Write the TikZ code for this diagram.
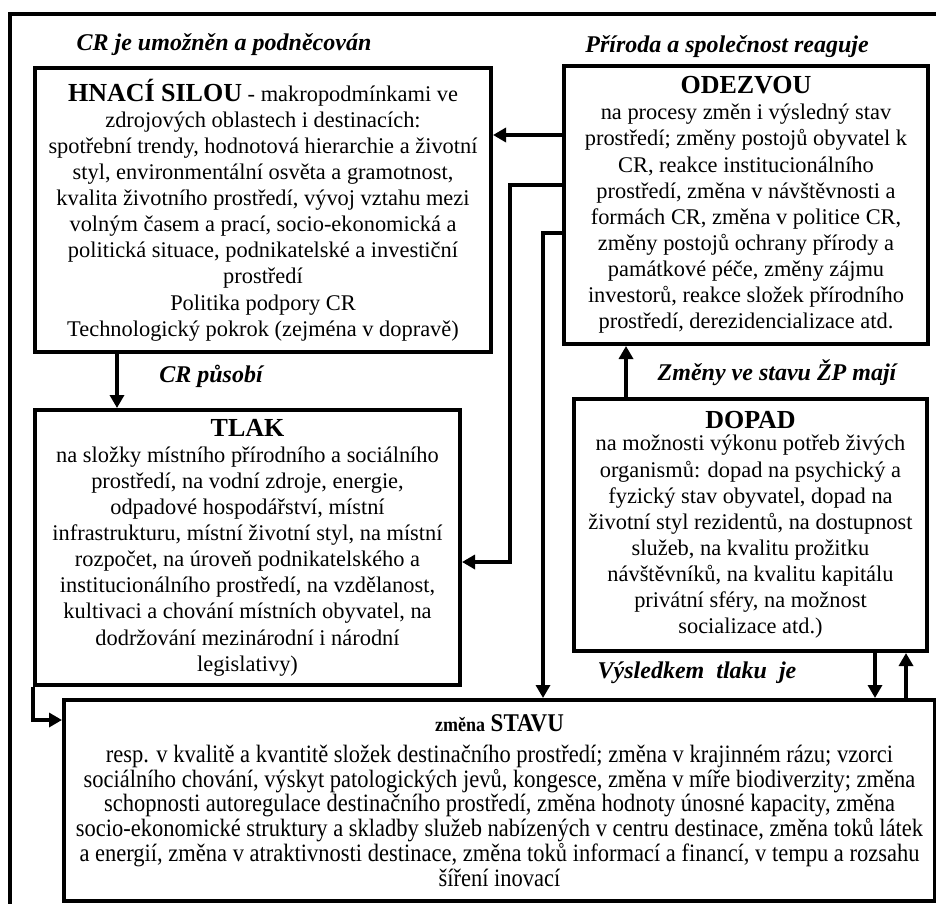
\documentclass[tikz,border=0pt]{standalone}
\usepackage{fontspec}
\setmainfont{Liberation Serif}
\newfontfamily\condensed[FakeStretch=0.90]{Liberation Serif}
\usetikzlibrary{arrows.meta}
\newcommand\boxtitle[1]{{\fontsize{26}{30}\selectfont\bfseries #1}}
\begin{document}
\begin{tikzpicture}[x=1pt,y=-1pt,
  box/.style={draw, line width=4pt, align=center, inner sep=0pt, anchor=north west, font=\fontsize{22.4}{26.1}\selectfont},
  lab/.style={inner sep=0pt, font=\fontsize{24}{28}\selectfont\bfseries\itshape},
  conn/.style={line width=3.5pt, -{Triangle[length=13pt,width=14pt]}},
  frame/.style={line width=4pt}]
\useasboundingbox (0,0) rectangle (936,904);
\draw[frame] (936,14) -- (10,14) -- (10,904);

\node[box, minimum width=456, minimum height=284] (hn) at (33,66) {%
{\boxtitle{HNACÍ SILOU}} - makropodmínkami ve\\
zdrojových oblastech i destinacích:\\
spotřební trendy, hodnotová hierarchie a životní\\
styl, environmentální osvěta a gramotnost,\\
kvalita životního prostředí, vývoj vztahu mezi\\
volným časem a prací, socio-ekonomická a\\
politická situace, podnikatelské a investiční\\
prostředí\\
Politika podpory CR\\
Technologický pokrok (zejména v dopravě)};

\node[box, minimum width=364, minimum height=278] (odz) at (562,64) {%
{\boxtitle{ODEZVOU}}\\
na procesy změn i výsledný stav\\
prostředí; změny postojů obyvatel k\\
CR, reakce institucionálního\\
prostředí, změna v návštěvnosti a\\
formách CR, změna v politice CR,\\
změny postojů ochrany přírody a\\
památkové péče, změny zájmu\\
investorů, reakce složek přírodního\\
prostředí, derezidencializace atd.};

\node[box, minimum width=425, minimum height=275] (tlak) at (33,408) {%
{\boxtitle{TLAK}}\\
na složky místního přírodního a sociálního\\
prostředí, na vodní zdroje, energie,\\
odpadové hospodářství, místní\\
infrastrukturu, místní životní styl, na místní\\
rozpočet, na úroveň podnikatelského a\\
institucionálního prostředí, na vzdělanost,\\
kultivaci a chování místních obyvatel, na\\
dodržování mezinárodní i národní\\
legislativy)};

\node[box, minimum width=353, minimum height=252] (dop) at (572,397) {%
{\boxtitle{DOPAD}}\\[-4pt]
na možnosti výkonu potřeb živých\\
organismů: dopad na psychický a\\
fyzický stav obyvatel, dopad na\\
životní styl rezidentů, na dostupnost\\
služeb, na kvalitu prožitku\\
návštěvníků, na kvalitu kapitálu\\
privátní sféry, na možnost\\
socializace atd.)};

\node[box, minimum width=871, minimum height=201, font=\condensed\fontsize{25}{24.8}\selectfont] (stav) at (62,698) {%
{\fontsize{20}{24}\selectfont\bfseries změna} {\fontsize{25.5}{28}\selectfont\bfseries STAVU}\\[6pt]
resp. v kvalitě a kvantitě složek destinačního prostředí; změna v krajinném rázu; vzorci\\
sociálního chování, výskyt patologických jevů, kongesce, změna v míře biodiverzity; změna\\
schopnosti autoregulace destinačního prostředí, změna hodnoty únosné kapacity, změna\\
socio-ekonomické struktury a skladby služeb nabízených v centru destinace, změna toků látek\\
a energií, změna v atraktivnosti destinace, změna toků informací a financí, v tempu a rozsahu\\
šíření inovací};

\node[lab] (l1) at (224,45) {CR je umožněn a podněcován};
\node[lab] (l2) at (727,47) {Příroda a společnost reaguje};
\node[lab] (l3) at (211,376) {CR působí};
\node[lab] (l4) at (777,373) {Změny ve stavu ŽP mají};
\node[lab] (l5) at (697,673) {Výsledkem\hspace{12pt}tlaku\hspace{12pt}je};

\draw[conn] (odz.west |- 0,135) -- (hn.east |- 0,135);
\draw[conn] (odz.west |- 0,185) -- (510,185) -- (510,562) -- (tlak.east |- 0,562);
\draw[conn] (odz.west |- 0,233) -- (543,233) -- (stav.north -| 543,0);
\draw[conn] (hn.south -| 117,0) -- (tlak.north -| 117,0);
\draw[conn] (dop.north -| 626,0) -- (odz.south -| 626,0);
\draw[conn] (dop.south -| 875,0) -- (stav.north -| 875,0);
\draw[conn] (stav.north -| 906,0) -- (dop.south -| 906,0);
\draw[conn] (tlak.south west) -- (33,720) -- (stav.west |- 0,720);
\end{tikzpicture}
\end{document}
